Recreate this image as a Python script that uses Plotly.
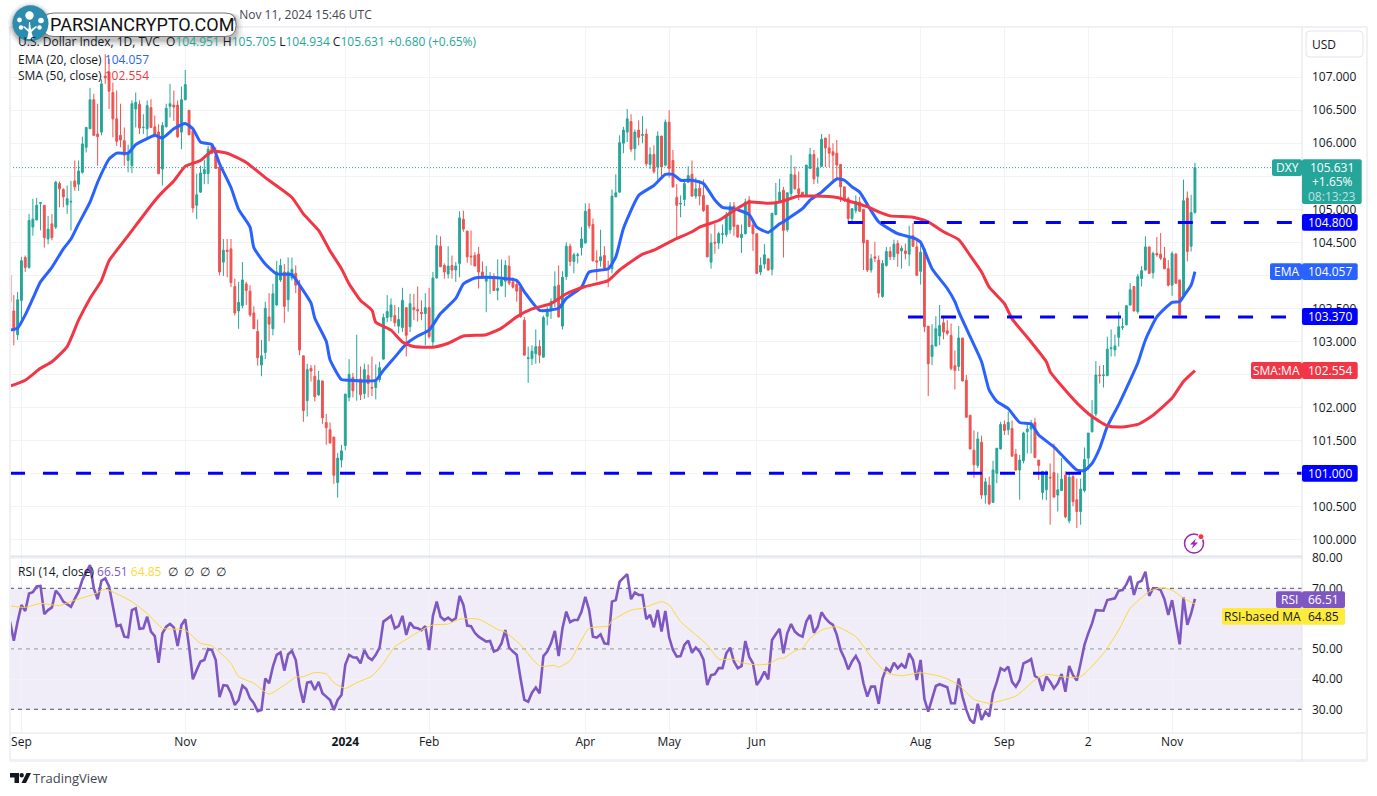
import plotly.graph_objects as go
from plotly.subplots import make_subplots

W, H = 1377, 796

# daily bars (0 = last days of Aug 2023, 311 = Nov 11 2024)
opens = [
    104.00,103.46,103.10,103.62,104.27,104.12,104.73,104.84,105.09,105.06,
    104.55,104.78,104.73,105.39,105.30,105.07,105.11,105.43,105.38,105.56,
    105.94,106.22,106.66,106.14,106.17,107.02,107.08,106.77,106.37,106.12,
    106.04,105.74,105.66,106.52,106.59,106.24,106.22,106.54,106.25,106.17,
    105.61,106.25,106.56,106.58,106.58,106.17,106.66,106.50,106.19,105.06,
    105.26,105.54,105.54,105.96,105.81,105.64,104.20,104.38,104.40,103.83,
    103.46,103.54,103.87,103.76,103.43,103.15,102.64,102.83,103.37,103.19,
    103.55,103.93,104.05,103.63,103.96,104.03,103.83,102.78,102.10,102.59,
    102.47,102.19,102.40,101.77,101.66,101.55,100.86,101.20,101.42,102.15,
    102.45,102.40,102.43,102.21,102.48,102.30,102.30,102.42,102.73,103.36,
    103.37,103.39,103.23,103.21,103.51,103.22,103.51,103.48,103.44,103.42,
    103.51,102.99,103.96,104.44,104.15,104.02,104.15,104.08,104.18,104.85,
    104.67,104.29,104.30,104.32,104.05,103.91,103.97,103.96,103.77,103.84,
    103.91,104.14,103.90,103.86,103.82,103.32,102.74,102.74,102.81,102.92,
    102.76,103.38,103.46,103.60,103.85,103.23,103.98,104.44,104.21,104.30,
    104.42,104.49,105.00,104.77,104.22,104.22,104.30,104.10,104.10,105.19,
    105.26,106.00,106.17,106.33,105.92,106.20,106.12,106.14,105.68,105.83,
    105.64,106.11,105.67,106.32,105.74,105.18,105.08,105.15,105.41,105.53,
    105.20,105.32,105.21,105.06,104.20,104.50,104.49,104.62,104.62,104.69,
    105.05,104.76,104.57,104.63,105.14,104.76,104.63,104.05,104.17,104.25,
    104.09,104.92,105.13,105.29,104.69,105.24,105.52,105.31,105.26,105.20,
    105.62,105.83,105.50,105.65,106.08,105.93,105.87,105.85,105.68,105.34,
    105.16,104.86,104.98,105.11,105.00,104.53,104.08,104.28,104.23,103.68,
    104.15,104.36,104.28,104.48,104.37,104.37,104.32,104.60,104.43,104.06,
    104.40,103.23,102.77,102.93,103.08,103.28,103.16,103.09,102.63,102.62,
    103.05,102.41,101.88,101.35,101.12,101.47,100.67,100.82,100.56,101.00,
    101.37,101.74,101.66,101.68,101.29,101.05,101.19,101.63,101.67,101.77,
    101.20,100.71,100.75,100.94,101.01,100.67,100.74,100.97,100.28,100.95,
    100.60,100.42,100.74,101.23,101.63,101.90,102.49,102.48,102.48,102.89,
    102.87,103.06,103.21,103.25,103.55,103.83,103.45,103.95,104.08,104.43,
    104.04,104.33,104.32,104.26,104.10,103.85,104.32,103.93,103.70,105.17,104.44,104.951,
]
highs = [
    104.35,103.70,103.75,104.28,104.30,104.93,105.16,105.17,105.10,105.06,
    104.90,104.93,105.43,105.42,105.32,105.36,105.43,105.74,105.74,106.10,
    106.24,106.84,106.75,106.60,106.97,107.35,107.28,106.92,106.80,106.60,
    106.24,105.98,106.65,106.77,106.65,106.44,106.65,106.67,106.42,106.29,
    106.32,106.60,106.90,106.80,106.65,106.86,107.11,106.50,106.22,105.54,
    105.66,105.75,105.96,106.00,105.94,105.69,104.55,104.55,104.55,103.95,
    103.90,104.20,103.90,103.85,103.53,103.33,103.02,103.60,103.73,103.87,
    104.22,104.25,104.17,104.27,104.27,104.15,103.93,102.78,102.66,102.64,
    102.64,102.55,102.40,101.90,101.77,101.55,101.31,101.43,102.20,102.73,
    102.52,103.10,102.62,102.66,102.65,102.77,102.65,102.69,103.42,103.70,
    103.65,103.55,103.52,103.81,103.51,103.72,103.72,103.83,103.62,103.73,
    103.81,104.05,104.61,104.59,104.18,104.44,104.30,104.20,104.97,104.98,
    104.67,104.68,104.35,104.43,104.21,104.14,104.05,104.03,104.24,104.24,
    104.23,104.30,103.97,103.92,103.87,103.37,102.92,102.94,103.18,103.02,
    103.39,103.52,103.65,104.06,104.15,104.06,104.50,104.48,104.34,104.34,
    104.73,105.09,105.09,104.86,104.38,104.69,104.44,104.22,105.30,105.53,
    106.12,106.25,106.52,106.44,106.21,106.35,106.41,106.22,105.94,105.97,
    106.18,106.11,106.36,106.50,105.90,105.38,105.21,105.44,105.65,105.74,
    105.48,105.44,105.45,105.06,104.63,104.78,104.66,104.77,104.96,105.11,
    105.11,104.76,104.77,105.16,105.20,104.81,104.63,104.27,104.47,104.25,
    104.94,105.40,105.46,105.34,105.25,105.82,105.65,105.57,105.26,105.67,
    105.93,105.90,105.78,106.14,106.08,106.14,106.00,106.05,105.68,105.34,
    105.19,105.01,105.21,105.19,105.00,104.53,104.32,104.51,104.30,104.23,
    104.43,104.43,104.54,104.53,104.45,104.48,104.75,104.79,104.54,104.53,
    104.40,103.23,103.26,103.38,103.55,103.39,103.32,103.27,102.86,103.23,
    103.05,102.49,101.88,101.65,101.63,101.57,100.93,100.95,101.19,101.38,
    101.78,101.80,101.93,101.80,101.37,101.28,101.63,101.76,101.81,101.84,
    101.20,101.03,101.04,101.15,101.45,101.00,101.23,101.03,101.00,100.98,
    100.92,100.92,101.39,101.61,102.11,102.70,102.63,102.64,103.07,103.18,
    103.10,103.45,103.35,103.54,103.88,103.83,104.02,104.14,104.59,104.43,
    104.36,104.58,104.64,104.43,104.23,104.36,104.34,103.93,105.45,105.27,105.22,105.705,
]
lows = [
    103.35,102.94,103.02,103.30,104.05,104.10,104.60,104.83,104.68,104.42,
    104.47,104.53,104.70,105.03,105.03,104.93,104.68,105.28,105.28,105.54,
    105.86,106.22,106.12,105.66,106.12,106.90,106.52,106.09,105.96,105.94,
    105.66,105.56,105.55,106.24,106.14,106.14,106.09,106.24,106.09,105.53,
    105.36,106.24,106.39,106.34,106.08,105.91,106.65,106.12,104.95,104.85,
    105.25,105.38,105.38,105.84,105.61,104.00,103.99,103.97,103.82,103.39,
    103.19,103.50,103.55,103.37,103.19,102.63,102.47,102.73,103.00,103.09,
    103.54,103.90,103.28,103.45,103.92,103.73,102.79,101.78,101.86,102.39,
    102.09,102.17,101.75,101.43,101.45,100.84,100.63,101.09,101.35,102.09,
    102.15,102.10,102.11,102.13,102.15,102.17,102.12,102.38,102.72,103.29,
    103.30,103.22,103.12,103.14,102.77,103.14,103.32,103.30,103.32,102.94,
    103.04,102.91,103.95,104.13,103.95,103.95,103.95,103.90,103.97,104.66,
    104.19,104.15,104.14,103.80,103.95,103.44,103.72,103.77,103.62,103.83,
    103.67,103.85,103.80,103.60,103.36,102.79,102.37,102.64,102.66,102.67,
    102.75,103.24,103.34,103.52,103.36,103.18,103.93,104.14,104.03,104.18,
    104.30,104.48,104.71,104.21,103.92,104.13,104.08,103.82,104.03,105.18,
    105.25,105.85,106.02,105.87,105.74,105.97,106.00,105.65,105.61,105.54,
    105.45,105.46,105.65,105.48,105.33,104.58,104.88,105.05,105.40,105.19,
    105.16,105.06,104.96,104.27,104.10,104.33,104.40,104.48,104.58,104.63,
    104.60,104.57,104.34,104.62,104.73,104.37,104.02,104.00,104.10,104.07,
    104.00,104.91,105.12,104.27,104.66,105.19,105.30,105.14,105.19,105.19,
    105.61,105.38,105.39,105.64,105.64,105.64,105.44,105.44,105.11,105.11,
    104.81,104.79,104.94,104.96,104.08,104.05,104.04,104.20,103.66,103.66,
    104.13,104.23,104.23,104.13,104.10,104.24,104.14,104.43,103.99,103.86,
    103.14,102.17,102.64,102.92,102.94,103.03,103.09,102.56,102.27,102.55,
    102.39,101.84,101.36,100.93,101.08,100.61,100.54,100.52,100.55,100.85,
    101.36,101.58,101.58,101.25,101.04,100.60,101.15,101.30,101.30,101.23,
    100.90,100.60,100.59,100.22,100.63,100.42,100.73,100.32,100.24,100.50,
    100.17,100.22,100.71,101.05,101.62,101.86,102.36,102.30,102.47,102.77,
    102.77,102.92,103.17,103.24,103.54,103.45,103.42,103.83,104.07,104.02,
    103.95,104.28,104.23,104.09,103.83,103.69,103.87,103.38,103.68,104.21,104.36,104.934,
]
closes = [
    103.60,103.16,103.63,104.22,104.12,104.83,104.85,105.06,105.10,104.57,
    104.70,104.57,105.41,105.31,105.19,105.16,105.12,105.34,105.58,105.99,
    106.24,106.66,106.12,106.10,106.90,106.99,106.79,106.37,106.03,106.05,
    105.82,105.86,106.60,106.62,106.23,106.24,106.57,106.24,106.12,105.54,
    106.27,106.53,106.60,106.55,106.10,106.66,106.89,106.13,105.02,105.22,
    105.55,105.60,105.91,105.85,105.62,104.05,104.38,104.36,103.89,103.43,
    103.59,103.93,103.77,103.40,103.19,102.75,102.78,103.50,103.26,103.72,
    104.05,104.15,103.53,104.05,104.09,103.85,102.87,101.95,102.57,102.55,
    102.16,102.41,101.84,101.69,101.46,100.97,101.23,101.34,102.20,102.50,
    102.25,102.42,102.19,102.57,102.36,102.29,102.42,102.60,103.36,103.45,
    103.55,103.28,103.33,103.62,103.09,103.57,103.48,103.46,103.42,103.51,
    103.07,103.96,104.45,104.13,104.05,104.14,104.08,104.14,104.87,104.70,
    104.28,104.28,104.14,104.05,103.96,103.96,103.98,103.77,103.80,103.93,
    104.15,103.88,103.82,103.76,103.37,102.79,102.75,102.85,102.92,102.79,
    103.36,103.46,103.60,103.83,103.37,103.97,104.44,104.21,104.31,104.31,
    104.55,104.97,104.75,104.22,104.20,104.28,104.11,104.09,105.20,105.25,
    106.01,106.20,106.37,105.91,106.17,106.09,106.13,105.69,105.83,105.57,
    106.11,105.64,106.32,105.62,105.34,105.06,105.09,105.39,105.51,105.20,
    105.31,105.20,104.98,104.28,104.49,104.49,104.63,104.63,104.91,105.05,
    104.74,104.58,104.62,105.11,104.74,104.63,104.03,104.15,104.31,104.08,
    104.94,105.11,105.26,104.68,105.25,105.53,105.31,105.24,105.20,105.67,
    105.83,105.46,105.63,106.06,105.93,105.85,105.82,105.67,105.34,105.14,
    104.86,105.01,105.12,104.97,104.49,104.08,104.25,104.26,103.73,104.18,
    104.36,104.28,104.47,104.33,104.41,104.33,104.58,104.44,104.00,104.35,
    103.22,102.66,102.94,103.19,103.24,103.14,103.12,102.59,102.56,103.05,
    102.40,101.85,101.37,101.13,101.52,100.67,100.87,100.54,101.05,101.38,
    101.74,101.65,101.77,101.26,101.05,101.20,101.61,101.67,101.74,101.24,
    101.12,101.03,101.03,100.93,100.64,100.75,100.91,100.34,100.94,100.57,
    100.42,100.76,101.21,101.61,101.88,102.49,102.48,102.49,102.88,102.90,
    102.93,103.22,103.22,103.54,103.78,103.46,103.98,104.07,104.43,104.03,
    104.33,104.31,104.26,104.10,103.85,104.33,103.88,103.40,105.13,104.36,104.95,105.631,
]
bars = list(range(len(closes)))

# moving averages, read at these bars
ema_bars = [0,2,4,6,8,11,14,16,18,21,23,26,28,31,33,36,38,40,43,46,48,50,53,55,58,60,63,64,67,70,74,76,79,80,83,84,87,89,
            92,96,98,101,104,107,110,113,117,119,122,125,133,135,139,144,146,150,152,157,159,161,165,169,172,174,176,179,
            182,185,187,190,194,196,199,202,203,206,208,210,213,217,219,221,223,226,228,233,237,239,242,246,248,249,252,
            255,257,259,262,265,268,270,274,276,280,282,284,286,288,291,294,296,298,301,305,307,308,310,311]
ema_vals = [103.17,103.20,103.40,103.65,103.90,104.12,104.40,104.55,104.78,105.11,105.41,105.76,105.85,105.85,105.98,106.07,106.12,106.08,106.22,106.30,
            106.22,106.02,105.98,105.69,105.33,105.00,104.73,104.42,104.17,104.02,104.01,103.85,103.58,103.35,103.00,102.72,102.42,102.41,
            102.40,102.41,102.56,102.76,102.96,103.08,103.17,103.42,103.65,103.87,103.96,103.97,103.92,103.75,103.47,103.50,103.65,103.82,104.05,104.10,104.28,104.71,105.21,105.36,105.53,105.53,105.44,105.44,
            105.39,105.14,105.03,105.01,104.92,104.73,104.65,104.78,104.81,104.93,105.01,105.14,105.26,105.46,105.44,105.34,105.26,104.98,104.81,104.63,104.57,104.50,104.10,103.80,103.60,103.45,103.07,
            102.69,102.26,102.09,101.98,101.77,101.75,101.58,101.40,101.28,101.05,101.04,101.15,101.38,101.71,102.04,102.41,102.67,103.02,103.37,103.59,103.60,103.68,103.85,104.057]
sma_bars = [0,4,8,11,15,18,21,24,26,31,34,38,40,43,46,50,53,57,62,67,74,77,81,84,87,89,92,95,96,100,103,106,111,115,119,125,129,133,137,142,146,151,157,160,
            166,169,174,179,181,186,190,194,199,202,207,211,217,221,225,228,231,237,241,245,249,252,255,257,261,263,268,272,273,277,281,284,288,291,296,300,305,308,311]
sma_vals = [102.32,102.41,102.59,102.69,102.92,103.32,103.65,103.92,104.22,104.60,104.83,105.13,105.26,105.43,105.65,105.74,105.88,105.85,105.71,105.48,105.18,104.93,104.68,104.37,104.10,103.87,103.62,103.47,103.29,103.17,102.99,102.92,102.91,102.97,103.08,103.10,103.20,103.37,103.49,103.57,103.72,103.83,103.92,104.08,
            104.32,104.38,104.53,104.66,104.73,104.83,104.98,105.11,105.09,105.11,105.20,105.20,105.18,105.11,105.04,104.96,104.90,104.88,104.81,104.66,104.54,104.30,104.05,103.82,103.57,103.34,102.99,102.69,102.54,102.26,102.01,101.86,101.72,101.70,101.74,101.88,102.14,102.39,102.554]

# RSI per bar
rsi_vals = [
    59.0,52.7,59.0,64.5,62.5,68.3,68.7,70.6,70.8,61.5,
    62.8,63.7,69.2,67.8,65.6,64.8,63.9,66.5,68.9,72.8,
    75.5,77.7,70.0,66.4,72.5,73.3,70.6,64.5,57.5,57.9,
    54.0,53.8,62.8,63.4,56.6,56.8,60.6,55.7,54.2,45.4,
    55.1,57.3,58.2,57.1,50.9,57.9,59.8,50.7,39.9,43.0,
    45.8,46.3,49.9,49.6,46.3,34.0,38.0,37.8,35.3,31.4,
    33.1,37.8,36.7,33.6,32.0,29.4,29.8,40.2,38.6,44.1,
    48.0,48.8,42.8,48.2,49.3,46.3,37.5,32.2,38.8,39.1,
    36.4,39.1,35.3,34.2,33.1,29.8,33.1,34.7,44.7,48.0,
    47.2,47.1,45.2,49.6,47.2,46.3,48.0,50.4,59.0,59.9,
    60.9,56.8,57.5,60.9,54.6,58.7,57.0,56.8,56.2,57.5,
    49.6,60.9,65.6,60.6,59.5,60.3,59.3,60.1,67.5,
    64.5,57.7,57.5,55.3,54.0,53.1,52.4,52.6,49.1,49.6,51.8,
    56.2,50.4,49.1,48.0,40.2,33.1,32.5,35.5,37.2,35.3,
    47.6,49.1,51.8,55.9,47.6,56.8,62.3,58.8,59.5,59.5,
    62.3,67.2,62.8,54.0,53.7,54.8,51.8,51.6,65.6,66.1,
    72.2,73.3,74.7,66.4,68.6,67.8,67.8,59.8,61.2,57.1,
    62.8,55.7,62.5,53.8,49.6,47.4,47.6,51.3,52.7,48.7,
    50.4,49.1,46.5,38.0,41.3,41.6,43.6,43.6,48.5,50.4,
    45.8,43.6,44.3,52.6,47.4,45.2,38.0,39.9,42.5,39.9,
    52.9,54.8,56.6,48.5,55.1,58.2,55.7,54.6,54.0,59.0,
    61.2,55.3,57.3,62.1,60.1,58.8,57.9,54.6,49.6,46.9,
    43.2,45.8,47.6,45.2,38.6,34.2,37.5,37.5,31.8,40.2,
    43.6,42.5,45.4,43.6,44.9,43.6,48.5,
    46.3,39.7,46.3,33.4,29.2,33.6,37.7,38.3,37.7,37.3,32.0,32.0,40.2,
    34.2,29.8,26.5,25.4,31.8,26.5,29.2,27.6,35.3,39.1,
    43.6,42.8,44.1,39.1,37.5,39.7,45.2,45.8,46.6,41.0,
    40.2,36.1,40.8,39.1,36.9,38.6,41.7,35.8,44.3,41.3,
    39.5,45.2,51.3,55.1,58.4,62.8,62.8,62.6,66.1,66.5,
    66.7,69.2,69.4,71.3,74.1,67.8,71.9,72.5,75.5,67.5,
    70.0,70.0,69.4,66.4,61.2,66.1,59.0,51.5,67.0,57.9,61.7,66.51,
]
rsi_ma_bars = [0,4,8,13,17,22,25,32,36,40,46,50,53,58,60,64,68,72,75,77,80,83,85,88,91,95,98,101,104,108,111,115,
               118,123,128,130,134,139,143,144,147,152,157,158,163,166,171,173,176,180,183,186,190,192,196,199,202,203,206,208,210,213,217,222,226,230,234,
               239,245,249,253,257,264,269,272,277,281,287,291,294,299,302,305,308,311]
rsi_ma_vals = [64.2,63.7,65.0,64.3,66.1,68.0,69.7,65.6,61.7,56.8,56.2,51.8,51.0,45.2,40.8,38.6,35.0,38.0,40.6,40.8,42.2,41.7,38.8,36.9,38.8,41.0,45.2,50.7,53.1,56.2,57.9,58.2,
               59.8,59.8,56.4,55.5,51.3,44.3,44.5,43.9,46.1,56.8,57.5,59.3,62.8,63.4,65.6,64.5,59.0,54.6,51.3,46.6,46.5,45.4,44.7,45.0,46.9,46.9,49.3,50.2,53.5,56.2,57.3,54.0,47.4,42.1,41.1,
               42.1,40.6,38.0,33.3,32.0,34.4,39.7,41.6,40.6,40.8,48.5,56.2,63.4,68.9,70.2,69.4,66.7,64.85]

# horizontal levels drawn on the chart
level_vals = [104.8, 103.37, 101.0]
level_starts = [219.9, 235.7, 0]
level_ends = [336.5, 334.9, 339.1]
last_price = 105.631
last_line_end = 331.2
rsi_levels = [30, 50, 70]

tick_bars = [3, 46, 88, 110, 151, 173, 196, 239, 261, 283, 305]
tick_text = ['Sep', 'Nov', '<b>2024</b>', 'Feb', 'Apr', 'May', 'Jun', 'Aug', 'Sep', '2', 'Nov']
# scale labels the price boxes hide in the picture only get a grid line
price_ticks = [100, 100.5, 101.5, 102, 103, 103.5, 104.5, 105, 106, 106.5, 107]
price_grid_only = [101, 102.5, 104, 105.5]
rsi_ticks = [30, 40, 50, 70, 80]
rsi_grid_only = [60]

TEAL = '#26a69a'
RED = '#ef5350'
GRID = '#f2f3f7'
BORDER = '#e0e3eb'
INK = '#131722'
FONT = 'Open Sans'


def px(x):
    return x / W


def py(y):
    return 1 - y / H


def rrect(x0, y0, x1, y1, r, fill, line=None, width=0):
    # rounded box in screen pixels
    p = (f'M{px(x0+r)},{py(y0)} L{px(x1-r)},{py(y0)} Q{px(x1)},{py(y0)} {px(x1)},{py(y0+r)} '
         f'L{px(x1)},{py(y1-r)} Q{px(x1)},{py(y1)} {px(x1-r)},{py(y1)} L{px(x0+r)},{py(y1)} '
         f'Q{px(x0)},{py(y1)} {px(x0)},{py(y1-r)} L{px(x0)},{py(y0+r)} Q{px(x0)},{py(y0)} {px(x0+r)},{py(y0)} Z')
    return dict(type='path', xref='paper', yref='paper', path=p, fillcolor=fill,
                line=dict(color=line or 'rgba(0,0,0,0)', width=width), layer='above')


def poly(points, fill):
    p = 'M' + ' L'.join(f'{px(a)},{py(b)}' for a, b in points) + ' Z'
    return dict(type='path', xref='paper', yref='paper', path=p, fillcolor=fill,
                line=dict(width=0), layer='above')


def circle(cx, cy, r, fill, line=None, width=0):
    return dict(type='circle', xref='paper', yref='paper', x0=px(cx-r), x1=px(cx+r),
                y0=py(cy+r), y1=py(cy-r), fillcolor=fill,
                line=dict(color=line or 'rgba(0,0,0,0)', width=width), layer='above')


def hline(x0, y0, x1, y1, color=BORDER, width=1):
    return dict(type='line', xref='paper', yref='paper', x0=px(x0), x1=px(x1), y0=py(y0), y1=py(y1),
                line=dict(color=color, width=width), layer='above')


def note(x, y, text, size=12, color=INK, anchor='left', family=FONT):
    return dict(xref='paper', yref='paper', x=px(x), y=py(y), text=text, showarrow=False,
                xanchor=anchor, yanchor='middle', font=dict(size=size, color=color, family=family),
                borderpad=0, borderwidth=0)


fig = make_subplots(rows=2, cols=1)

fig.add_trace(go.Candlestick(
    x=bars, open=opens, high=highs, low=lows, close=closes,
    increasing=dict(line=dict(color=TEAL, width=1), fillcolor=TEAL),
    decreasing=dict(line=dict(color=RED, width=1), fillcolor=RED),
    whiskerwidth=0, showlegend=False), row=1, col=1)
fig.add_trace(go.Scatter(x=ema_bars, y=ema_vals, mode='lines',
                         line=dict(color='#2962ff', width=3, shape='spline', smoothing=0.5)), row=1, col=1)
fig.add_trace(go.Scatter(x=sma_bars, y=sma_vals, mode='lines',
                         line=dict(color='#f23645', width=3, shape='spline', smoothing=0.5)), row=1, col=1)
fig.add_trace(go.Scatter(x=[0, last_line_end], y=[last_price, last_price], mode='lines',
                         line=dict(color=TEAL, width=1, dash='1px,2px')), row=1, col=1)
for val, start, end in zip(level_vals, level_starts, level_ends):
    fig.add_trace(go.Scatter(x=[start, end], y=[val, val], mode='lines',
                             line=dict(color='#0000ff', width=3, dash='15px,18px')), row=1, col=1)

x_range = [0, 339.1]
for lvl in rsi_levels:
    fig.add_trace(go.Scatter(x=x_range, y=[lvl, lvl], mode='lines',
                             line=dict(color='#6f7280' if lvl != 50 else '#a5a6b0', width=1.2, dash='4px,4px')),
                  row=2, col=1)
fig.add_trace(go.Scatter(x=bars, y=rsi_vals, mode='lines', line=dict(color='#7e57c2', width=2.6)), row=2, col=1)
fig.add_trace(go.Scatter(x=rsi_ma_bars, y=rsi_ma_vals, mode='lines',
                         line=dict(color='#fdd835', width=1, shape='spline', smoothing=0.5)), row=2, col=1)

fig.update_xaxes(range=x_range, domain=[px(10), px(1302)], showgrid=True, gridcolor=GRID, gridwidth=1,
                 zeroline=False, showline=False, tickmode='array', tickvals=tick_bars, ticktext=tick_text,
                 ticks='', rangeslider_visible=False, automargin=False,
                 tickfont=dict(size=12, color=INK, family=FONT))
fig.update_xaxes(showticklabels=False, row=1, col=1)
fig.update_yaxes(side='right', showgrid=True, gridcolor=GRID, gridwidth=1, zeroline=False, showline=False, ticks='',
                 ticklabelstandoff=9, automargin=False, tickfont=dict(size=12, color=INK, family=FONT))
fig.update_yaxes(range=[99.747, 107.762], domain=[py(556), py(27)], tickmode='array', tickvals=price_ticks,
                 tickformat='.3f', minor=dict(tickmode='array', tickvals=price_grid_only, showgrid=True,
                                              gridcolor=GRID, gridwidth=1, ticks=''), row=1, col=1)
fig.update_yaxes(range=[22.17, 80.35], domain=[py(733), py(557)], tickmode='array', tickvals=rsi_ticks,
                 tickformat='.2f', minor=dict(tickmode='array', tickvals=rsi_grid_only, showgrid=True,
                                              gridcolor=GRID, gridwidth=1, ticks=''), row=2, col=1)

shapes = [
    # RSI band
    dict(type='rect', xref='paper', yref='y2', x0=px(10), x1=px(1302), y0=30, y1=70,
         fillcolor='rgba(126,87,194,0.11)', line=dict(width=0), layer='below'),
]

# frame
shapes += [
    hline(10, 27, 1367, 27), hline(10, 556.5, 1302, 556.5, width=2), hline(10, 733, 1367, 733),
    hline(10, 760.5, 1367, 760.5, color='#eff1f6', width=3), hline(1302, 27, 1302, 761),
    hline(10, 27, 10, 761, color='#eff1f6', width=2), hline(1367, 27, 1367, 761, color='#eff1f6', width=2),
    rrect(1306, 31, 1363, 57, 4, '#ffffff', BORDER, 1),
]

# right scale labels
shapes += [
    rrect(1272, 159.3, 1302, 176, 2, TEAL), rrect(1302, 159.3, 1361.7, 204, 2, TEAL),
    rrect(1302, 214, 1357.7, 230.7, 2, '#0000ff'),
    rrect(1270, 263.3, 1302, 280, 2, '#2962ff'), rrect(1302, 263.3, 1357.7, 280, 2, '#2962ff'),
    rrect(1302, 308, 1357.7, 325, 2, '#0000ff'),
    rrect(1251, 362, 1302, 379, 2, '#f23645'), rrect(1302, 362, 1357.7, 379, 2, '#f23645'),
    rrect(1302, 465, 1357.7, 481.7, 2, '#0000ff'),
    rrect(1276, 591.3, 1302, 608, 2, '#7e57c2'), rrect(1302, 591.3, 1345, 608, 2, '#7e57c2'),
    rrect(1222, 608, 1302, 624.7, 2, '#ffeb3b'), rrect(1302, 608, 1345, 624.7, 2, '#ffeb3b'),
]

# lightning mark
shapes += [
    circle(1194, 543.5, 9.5, 'rgba(0,0,0,0)', '#9c27b0', 1.5),
    poly([(1196, 538.5), (1190, 544.5), (1193.5, 544.5), (1191.5, 549), (1198, 542.5), (1194.5, 542.5)], '#9c27b0'),
    circle(1201, 536.7, 3, '#f23645', '#ffffff', 1),
]

# site badge
for grow, alpha in [(7, 0.04), (5, 0.05), (3, 0.07), (1.5, 0.10)]:
    shapes.append(rrect(43-grow, 13, 236+grow, 37+grow+3, 12, f'rgba(0,0,0,{alpha})'))
    shapes.append(circle(30.5, 25, 18+grow*0.7, f'rgba(0,0,0,{alpha})'))
shapes += [
    rrect(43, 13, 236, 36.5, 11, '#ffffff', '#555555', 0.8),
    circle(30.5, 23.3, 18, '#2b8cae'),
    poly([(27, 39), (33.5, 39), (31.5, 32), (37, 27), (36, 26), (31, 29.5), (30, 22), (29, 22),
          (28.5, 29.5), (24, 26), (23, 27), (28.5, 32)], '#ffffff'),
    circle(29.5, 15.5, 4.2, '#ffffff'), circle(19.5, 20, 2.4, '#ffffff'), circle(41, 20.5, 2.8, '#ffffff'),
    circle(21, 27.5, 2.2, '#ffffff'), circle(39.5, 27.5, 2.2, '#ffffff'),
]

# TradingView mark
shapes += [
    poly([(10, 773), (19, 773), (19, 783), (14.5, 783), (14.5, 777.5), (10, 777.5)], INK),
    circle(21.7, 775.3, 2.2, INK),
    poly([(26.5, 773), (31, 773), (26, 783), (21.5, 783)], INK),
]

V = f'<span style="color:{TEAL}">'
annotations = [
    note(372, 14, ', Nov 11, 2024 15:46 UTC', 12, '#434651', 'right'),
    note(18, 42, f'U.S. Dollar Index, 1D, TVC  O{V}104.951</span> H{V}105.705</span> '
                 f'L{V}104.934</span> C{V}105.631</span> {V}+0.680 (+0.65%)</span>'),
    note(18, 59, 'EMA (20, close) <span style="color:#2962ff">104.057</span>'),
    note(18, 76, 'SMA (50, close) <span style="color:#f23645">102.554</span>'),
    note(18, 571.5, 'RSI (14, close) <span style="color:#7e57c2">66.51</span> '
                    '<span style="color:#fdd835">64.85</span>  ∅  ∅  ∅  ∅'),
    note(1324, 44, 'USD', 12, INK, 'center'),
    note(1287, 167.5, 'DXY', 12, '#ffffff', 'center'),
    note(1332, 167.5, '105.631', 12, '#ffffff', 'center'),
    note(1332, 182, '+1.65%', 12, '#ffffff', 'center'),
    note(1332, 196, '08:13:23', 12, 'rgba(255,255,255,0.7)', 'center'),
    note(1330, 222.5, '104.800', 12, '#ffffff', 'center'),
    note(1286, 271.5, 'EMA', 12, '#ffffff', 'center'),
    note(1330, 271.5, '104.057', 12, '#ffffff', 'center'),
    note(1330, 316.5, '103.370', 12, '#ffffff', 'center'),
    note(1276.5, 370.5, 'SMA:MA', 12, '#ffffff', 'center'),
    note(1330, 370.5, '102.554', 12, '#ffffff', 'center'),
    note(1330, 473.5, '101.000', 12, '#ffffff', 'center'),
    note(1289, 599.5, 'RSI', 12, '#ffffff', 'center'),
    note(1323.5, 599.5, '66.51', 12, '#ffffff', 'center'),
    note(1262, 616.5, 'RSI-based MA', 12, INK, 'center'),
    note(1323.5, 616.5, '64.85', 12, INK, 'center'),
    note(50, 25, 'PARSIANCRYPTO.COM', 18, '#111111', 'left', 'Roboto'),
    note(33, 778, 'TradingView', 13, '#434651'),
]

fig.update_layout(
    width=W, height=H, margin=dict(l=0, r=0, t=0, b=0), autosize=False,
    paper_bgcolor='white', plot_bgcolor='white', showlegend=False,
    shapes=shapes, annotations=annotations,
)

fig.write_html("out.html", post_script="document.body.style.margin='0';",
               config={'displayModeBar': False})
